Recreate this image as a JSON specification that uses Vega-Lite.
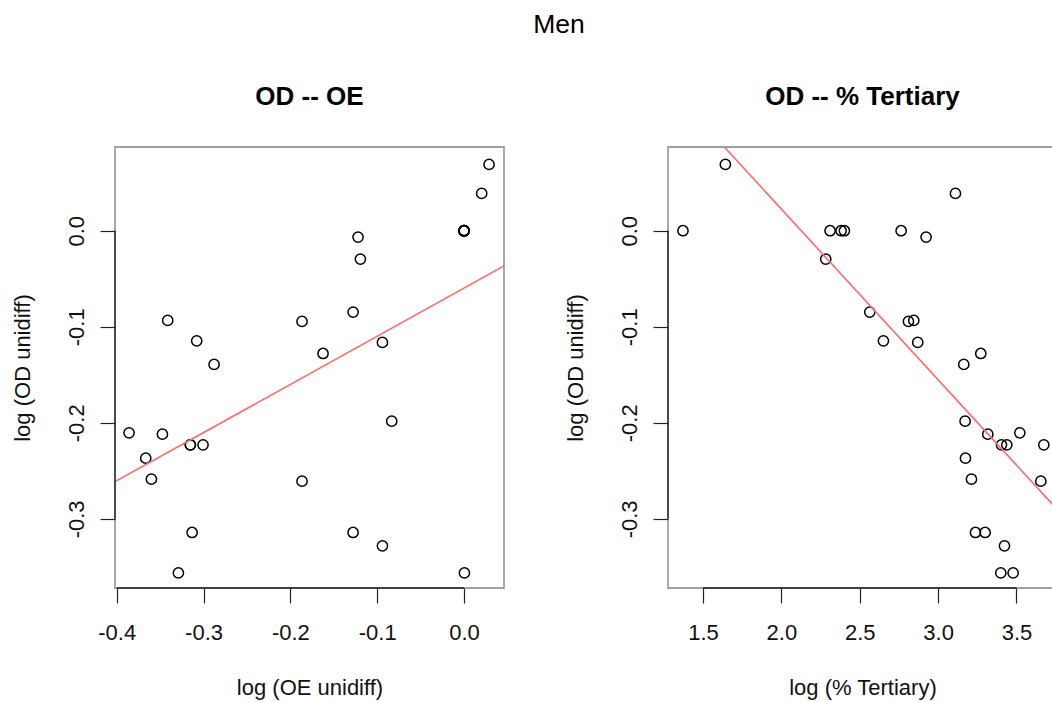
{
  "$schema": "https://vega.github.io/schema/vega-lite/v6.json",
  "autosize": {"type": "none"},
  "padding": {"left": 115, "top": 147, "right": 937, "bottom": 555},
  "background": "white",
  "config": {
    "font": "Liberation Sans",
    "view": {"stroke": "#a0a0a0", "strokeWidth": 1.8},
    "axis": {
      "domain": false,
      "grid": false,
      "tickSize": 15,
      "tickColor": "#222222",
      "tickWidth": 1.2,
      "labelFont": "Liberation Sans",
      "labelFontSize": 22,
      "labelColor": "#111111",
      "labelFlush": false,
      "labelOverlap": false,
      "titleFont": "Liberation Sans",
      "titleFontSize": 22,
      "titleFontWeight": "normal",
      "titleColor": "#111111"
    },
    "axisX": {
      "labelAngle": 0,
      "labelAlign": "center",
      "labelBaseline": "alphabetic",
      "labelPadding": 36,
      "titleBaseline": "alphabetic",
      "titleY": 106
    },
    "axisY": {
      "labelAngle": -90,
      "labelAlign": "center",
      "labelBaseline": "alphabetic",
      "labelPadding": 17,
      "titleAngle": -90,
      "titleAlign": "center",
      "titleBaseline": "alphabetic",
      "titleX": -86
    },
    "title": {
      "font": "Liberation Sans",
      "fontSize": 26,
      "fontWeight": "bold",
      "color": "#000000",
      "baseline": "alphabetic",
      "offset": 37
    }
  },
  "title": {
    "text": "Men",
    "fontSize": 26.5,
    "fontWeight": "normal",
    "anchor": "middle",
    "dx": 25,
    "offset": 45
  },
  "datasets": {
    "men": [
      {"oe": 0.0288, "tert": 1.6426, "od": 0.0691},
      {"oe": 0.0203, "tert": 3.1106, "od": 0.0389},
      {"oe": 0.0, "tert": 1.372, "od": 0.0},
      {"oe": 0.0, "tert": 2.3106, "od": 0.0},
      {"oe": 0.0, "tert": 2.381, "od": 0.0},
      {"oe": 0.0, "tert": 2.402, "od": 0.0},
      {"oe": 0.0, "tert": 2.764, "od": 0.0},
      {"oe": -0.1221, "tert": 2.9234, "od": -0.0066},
      {"oe": -0.1194, "tert": 2.283, "od": -0.0295},
      {"oe": -0.1278, "tert": 2.5638, "od": -0.0847},
      {"oe": -0.1866, "tert": 2.8106, "od": -0.0944},
      {"oe": -0.3413, "tert": 2.8447, "od": -0.0934},
      {"oe": -0.3079, "tert": 2.651, "od": -0.1146},
      {"oe": -0.094, "tert": 2.87, "od": -0.1163},
      {"oe": -0.1624, "tert": 3.2723, "od": -0.1278},
      {"oe": -0.2879, "tert": 3.1638, "od": -0.1392},
      {"oe": -0.0833, "tert": 3.1723, "od": -0.1983},
      {"oe": -0.3858, "tert": 3.5213, "od": -0.2104},
      {"oe": -0.3474, "tert": 3.317, "od": -0.2118},
      {"oe": -0.3152, "tert": 3.4043, "od": -0.2229},
      {"oe": -0.3152, "tert": 3.4383, "od": -0.2229},
      {"oe": -0.3006, "tert": 3.6745, "od": -0.2229},
      {"oe": -0.3666, "tert": 3.1745, "od": -0.2368},
      {"oe": -0.3601, "tert": 3.2128, "od": -0.2587},
      {"oe": -0.1866, "tert": 3.6553, "od": -0.2608},
      {"oe": -0.3132, "tert": 3.2383, "od": -0.3142},
      {"oe": -0.1278, "tert": 3.3, "od": -0.3142},
      {"oe": -0.094, "tert": 3.4234, "od": -0.3281},
      {"oe": -0.329, "tert": 3.4, "od": -0.3563},
      {"oe": 0.0004, "tert": 3.4787, "od": -0.3563}
    ],
    "fit_oe": [
      {"oe": -0.45, "od": -0.2854},
      {"oe": 0.1, "od": -0.0095}
    ],
    "fit_tert": [
      {"tert": 1.2, "od": 0.1647},
      {"tert": 4.0, "od": -0.3329}
    ]
  },
  "bounds": "flush",
  "spacing": 164,
  "hconcat": [
    {
      "width": 389,
      "height": 441,
      "title": "OD -- OE",
      "layer": [
        {
          "data": {"name": "men"},
          "mark": {"type": "point", "shape": "circle", "filled": false, "stroke": "#000000", "strokeWidth": 1.5, "size": 105, "opacity": 1},
          "encoding": {
            "x": {
              "field": "oe",
              "type": "quantitative",
              "scale": {"domain": [-0.402, 0.046], "nice": false, "zero": false},
              "axis": {
                "title": "log (OE unidiff)",
                "values": [-0.4, -0.3, -0.2, -0.1, 0],
                "labelExpr": "replace(format(datum.value, '.1f'), '\u2212', '-')"
              }
            },
            "y": {
              "field": "od",
              "type": "quantitative",
              "scale": {"domain": [-0.372, 0.0872], "nice": false, "zero": false},
              "axis": {
                "title": "log (OD unidiff)",
                "values": [-0.3, -0.2, -0.1, 0],
                "labelExpr": "replace(format(datum.value, '.1f'), '\u2212', '-')"
              }
            }
          }
        },
        {
          "data": {"name": "fit_oe"},
          "mark": {"type": "line", "color": "#ff6a6a", "strokeWidth": 1.6, "clip": true},
          "encoding": {
            "x": {"field": "oe", "type": "quantitative"},
            "y": {"field": "od", "type": "quantitative"}
          }
        },
        {
          "data": {"values": [{}]},
          "mark": {"type": "rule", "color": "#222222", "strokeWidth": 1.4},
          "encoding": {
            "x": {"datum": -0.4},
            "x2": {"datum": 0},
            "y": {"value": "height"}
          }
        },
        {
          "data": {"values": [{}]},
          "mark": {"type": "rule", "color": "#222222", "strokeWidth": 1.4},
          "encoding": {
            "y": {"datum": -0.3},
            "y2": {"datum": 0},
            "x": {"value": 0}
          }
        }
      ]
    },
    {
      "width": 389,
      "height": 441,
      "title": "OD -- % Tertiary",
      "layer": [
        {
          "data": {"name": "men"},
          "mark": {"type": "point", "shape": "circle", "filled": false, "stroke": "#000000", "strokeWidth": 1.5, "size": 105, "opacity": 1},
          "encoding": {
            "x": {
              "field": "tert",
              "type": "quantitative",
              "scale": {"domain": [1.2765, 3.7586], "nice": false, "zero": false},
              "axis": {
                "title": "log (% Tertiary)",
                "values": [1.5, 2.0, 2.5, 3.0, 3.5],
                "labelExpr": "format(datum.value, '.1f')"
              }
            },
            "y": {
              "field": "od",
              "type": "quantitative",
              "scale": {"domain": [-0.372, 0.0872], "nice": false, "zero": false},
              "axis": {
                "title": "log (OD unidiff)",
                "values": [-0.3, -0.2, -0.1, 0],
                "labelExpr": "replace(format(datum.value, '.1f'), '\u2212', '-')"
              }
            }
          }
        },
        {
          "data": {"name": "fit_tert"},
          "mark": {"type": "line", "color": "#ff6a6a", "strokeWidth": 1.6, "clip": true},
          "encoding": {
            "x": {"field": "tert", "type": "quantitative"},
            "y": {"field": "od", "type": "quantitative"}
          }
        },
        {
          "data": {"values": [{}]},
          "mark": {"type": "rule", "color": "#222222", "strokeWidth": 1.4},
          "encoding": {
            "x": {"datum": 1.5},
            "x2": {"datum": 3.5},
            "y": {"value": "height"}
          }
        },
        {
          "data": {"values": [{}]},
          "mark": {"type": "rule", "color": "#222222", "strokeWidth": 1.4},
          "encoding": {
            "y": {"datum": -0.3},
            "y2": {"datum": 0},
            "x": {"value": 0}
          }
        }
      ]
    }
  ]
}
